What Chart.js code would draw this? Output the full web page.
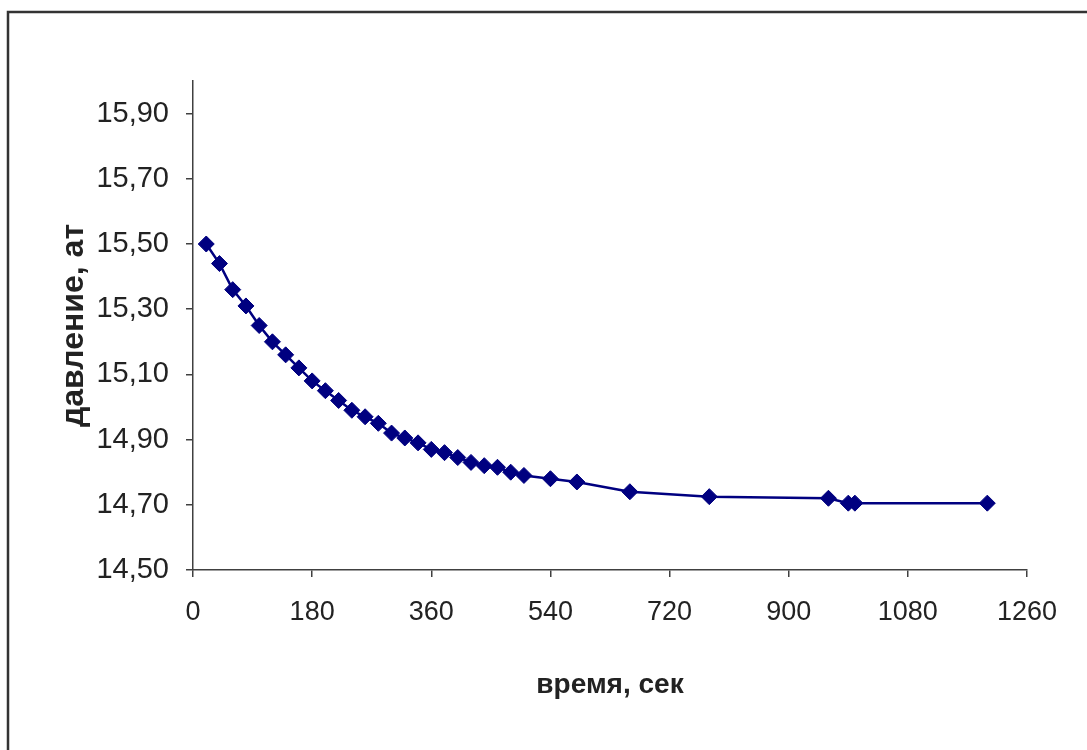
<!DOCTYPE html>
<html>
<head>
<meta charset="utf-8">
<script src="https://cdn.jsdelivr.net/npm/chart.js@4/dist/chart.umd.min.js"></script>
<style>
  body{margin:0;background:#fff;}
  #wrap{width:1087px;height:750px;}
</style>
</head>
<body>
<div id="wrap"><canvas id="pressure"></canvas></div>
<script>
const timeSec = [20,40,60,80,100,120,140,160,180,200,220,240,260,280,300,320,340,360,380,400,420,440,460,480,500,540,580,660,780,960,990,1000,1200];
const pressureAt = [15.50,15.44,15.36,15.31,15.25,15.20,15.16,15.12,15.08,15.05,15.02,14.99,14.97,14.95,14.92,14.905,14.89,14.87,14.86,14.845,14.83,14.82,14.815,14.80,14.79,14.78,14.77,14.74,14.725,14.72,14.705,14.705,14.705];
const xTicks = [0,180,360,540,720,900,1080,1260];
const yTicks = [14.50,14.70,14.90,15.10,15.30,15.50,15.70,15.90];

const frame={
  id:'frame',
  beforeDraw(chart){
    const c=chart.ctx;
    c.save();
    c.fillStyle='#fff';
    c.fillRect(0,0,chart.width,chart.height);
    c.strokeStyle='#333';
    c.lineWidth=2.5;
    c.strokeRect(8,12,1100,745);
    c.restore();
  }
}

const fontFam="'Liberation Sans', Arial, sans-serif";
let ctx = document.getElementById('pressure').getContext('2d');
let pressureChart = new Chart(ctx,{
  type:'line',
  data:{
    datasets:[{
      data: timeSec.map((t,i)=>({x:t,y:pressureAt[i]})),
      borderColor:'#000080',
      backgroundColor:'#000080',
      borderWidth:2.5,
      pointStyle:'rectRot',
      pointRadius:8,
      pointBorderWidth:1,
      tension:0,
    }]
  },
  plugins:[frame],
  options:{
    responsive:true,
    maintainAspectRatio:false,
    animation:false,
    layout:{padding:{top:81,right:60,left:0,bottom:0}},
    plugins:{legend:{display:false},tooltip:{enabled:false}},
    scales:{
      x:{
        type:'linear',
        min:0,
        max:1260,
        afterBuildTicks(scale){ scale.ticks = xTicks.map(v=>({value:v})); },
        afterFit(scale){ scale.height = 180; },
        grid:{drawOnChartArea:false,drawTicks:true,tickLength:7,color:'#404040',lineWidth:1.5},
        border:{display:true,color:'#404040',width:1.5},
        ticks:{color:'#222',padding:19,maxRotation:0,font:{family:fontFam,size:27},
          callback:v=>String(v)},
        title:{display:true,text:'время, сек',color:'#222',padding:{top:0,bottom:48},font:{family:fontFam,size:28,weight:'bold'}}
      },
      y:{
        min:14.5,
        max:16.0,
        afterBuildTicks(scale){ scale.ticks = yTicks.map(v=>({value:v})); },
        afterFit(scale){ scale.width = 193; },
        grid:{drawOnChartArea:false,drawTicks:true,tickLength:7,color:'#404040',lineWidth:1.5},
        border:{display:true,color:'#404040',width:1.5},
        ticks:{color:'#222',padding:17,font:{family:fontFam,size:29},
          callback:v=>v.toFixed(2).replace('.',',')},
        title:{display:true,text:'давление, ат',color:'#222',padding:{top:55,bottom:0},font:{family:fontFam,size:32,weight:'bold'}}
      }
    }
  }
})
</script>
</body>
</html>
